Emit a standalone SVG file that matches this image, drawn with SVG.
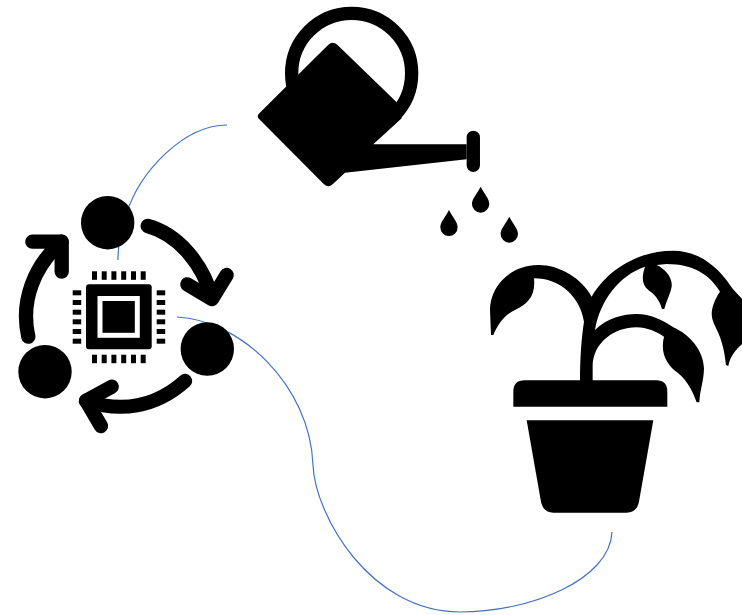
<svg xmlns="http://www.w3.org/2000/svg" width="742" height="615" viewBox="0 0 742 615">
<style>
.wire{fill:none;stroke:#4472c4;stroke-width:1.2}
.arc{fill:none;stroke:#000;stroke-width:14.300;stroke-linecap:round;stroke-linejoin:round}
.k{fill:#000}
</style>
<defs>
<path id="drop" class="k" d="M0,-50 C12,-26 26,-14 26,2 A26,26 0 0 1 -26,2 C-26,-14 -12,-26 0,-50 Z"/>
<rect id="pv" class="k" width="5" height="8.500"/>
<rect id="ph" class="k" width="8.500" height="5"/>
</defs>
<rect width="742" height="615" fill="#fff"/>
<g id="connectors">
<path class="wire" d="M227,125 C185,125 140,170 126,215 C120,235 118,245 118,260"/>
<path class="wire" d="M177,317 C240,320 310,385 313,465 C315,515 370,612 460,612 C530,612 610,580 612,532"/>
</g>
<g id="watering-can" transform="translate(240,0) scale(0.3333)">
<circle cx="335" cy="220" r="180" fill="none" stroke="#000" stroke-width="40"/>
<path class="k" d="M265,134 Q278,122 292,134 L470,307 L485,355 L400,433 L680,433 L680,478 L315,518 L278,553 Q265,565 252,553 L58,358 Q48,350 58,340 Z"/>
<rect class="k" x="680" y="392" width="40" height="124" rx="20"/>
<use href="#drop" x="627" y="680"/>
<use href="#drop" x="722" y="610"/>
<use href="#drop" x="808" y="700"/>
</g>
<g id="plant" transform="translate(480,240) scale(0.3333)">
<path class="k" d="M300,425 C300,350 305,290 312,245 C300,170 240,115 162,115 C168,170 140,195 105,210 C70,225 50,260 40,285 L33,285 L30,210 C30,140 90,75 175,75 C240,75 305,115 335,170 C385,85 480,32 580,32 C650,32 710,75 750,135 C760,150 775,165 790,180 L790,310 C770,325 750,350 745,378 L738,375 C730,290 705,265 698,240 C690,215 700,185 720,155 C690,105 640,72 560,72 L530,75 C560,90 578,115 575,140 C570,165 560,180 553,207 L546,207 C540,180 520,160 505,150 C485,135 485,110 495,80 C420,105 360,180 345,270 C380,235 430,222 470,222 C510,222 550,240 580,262 C630,285 670,330 672,385 C672,420 660,450 658,487 L650,487 C640,460 625,425 595,400 C560,375 540,340 552,290 C530,275 500,262 470,262 C400,262 338,310 338,380 L338,425 Z"/>
<path class="k" d="M100,500 L100,455 Q100,421 134,421 L528,421 Q562,421 562,455 L562,500 Z"/>
<path class="k" d="M140,541 L520,541 L477,785 Q470,818 440,818 L220,818 Q190,818 183,785 Z"/>
</g>
<g id="cycle">
<path class="arc" d="M147.700,226 C178,234 203,264 212,298"/>
<path class="arc" d="M187.300,284.300 L212,299 L226.700,275"/>
<path class="arc" d="M185,381 C155,408 120,412 86,401"/>
<path class="arc" d="M111.700,386.700 L86,400.700 L101,426"/>
<path class="arc" d="M28.300,336.700 C20,300 35,265 61.700,241.700"/>
<path class="arc" d="M32.300,241.700 L61.700,241.700 L61.700,271.700"/>
<circle class="k" cx="107.700" cy="222.700" r="26.700"/>
<circle class="k" cx="207.300" cy="349" r="26.700"/>
<circle class="k" cx="45" cy="371.700" r="26.700"/>
</g>
<g id="chip">
<rect class="k" x="86" y="284.300" width="65.700" height="65" rx="3"/>
<rect x="100" y="298.500" width="37.300" height="36.800" fill="#000" stroke="#fff" stroke-width="5"/>
<use href="#pv" x="92" y="271.300"/><use href="#pv" x="101.700" y="271.300"/><use href="#pv" x="111.400" y="271.300"/><use href="#pv" x="121.200" y="271.300"/><use href="#pv" x="131" y="271.300"/><use href="#pv" x="140.700" y="271.300"/>
<use href="#pv" x="92" y="354.700"/><use href="#pv" x="101.700" y="354.700"/><use href="#pv" x="111.400" y="354.700"/><use href="#pv" x="121.200" y="354.700"/><use href="#pv" x="131" y="354.700"/><use href="#pv" x="140.700" y="354.700"/>
<use href="#ph" x="72.700" y="290.300"/><use href="#ph" x="72.700" y="300"/><use href="#ph" x="72.700" y="309.700"/><use href="#ph" x="72.700" y="319.300"/><use href="#ph" x="72.700" y="329"/><use href="#ph" x="72.700" y="338.700"/>
<use href="#ph" x="156.700" y="290.300"/><use href="#ph" x="156.700" y="300"/><use href="#ph" x="156.700" y="309.700"/><use href="#ph" x="156.700" y="319.300"/><use href="#ph" x="156.700" y="329"/><use href="#ph" x="156.700" y="338.700"/>
</g>
</svg>
